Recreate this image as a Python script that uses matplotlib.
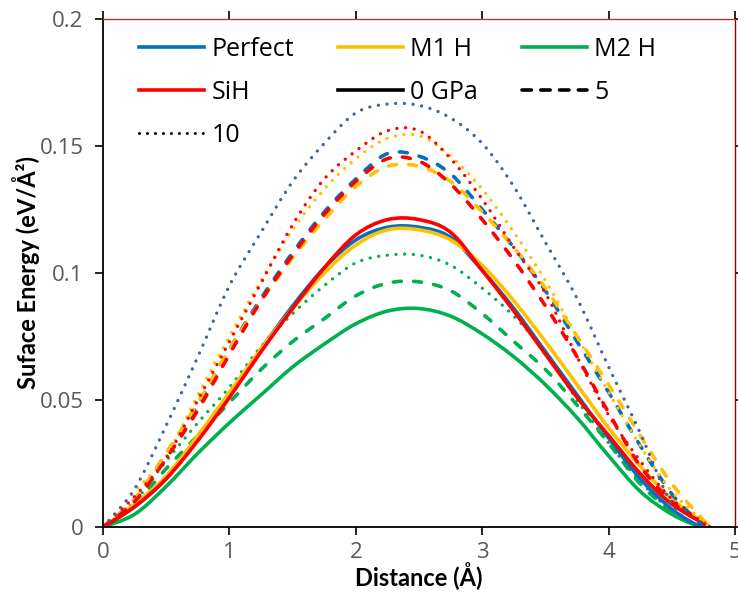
import matplotlib
matplotlib.use("Agg")
import matplotlib.pyplot as plt
from matplotlib.path import Path
from matplotlib.patches import PathPatch
from matplotlib.lines import Line2D
import numpy as np

# distance grid (Å); each curve ends at its own x
dist = [0, 0.25, 0.5, 0.75, 1.0, 1.25, 1.5, 1.75, 2.0, 2.25,
        2.5, 2.75, 3.0, 3.25, 3.5, 3.75, 4.0, 4.25, 4.5]

# surface energy (eV/Å^2), 0 GPa
perfect_0 = [0, .008, .019, .035, .052, .070, .087, .102, .113, .118,
             .118, .114, .101, .086, .069, .052, .035, .019, .007]
m1h_0 = [0, .009, .020, .036, .053, .070, .086, .100, .111, .117,
         .117, .113, .103, .089, .073, .056, .039, .024, .011]
m2h_0 = [0, .005, .016, .029, .041, .052, .063, .072, .080, .085,
         .086, .083, .076, .067, .056, .043, .028, .014, .005]
sih_0 = [0, .008, .019, .034, .051, .069, .086, .102, .115, .121,
         .121, .116, .101, .085, .068, .051, .036, .021, .009]
# 5 GPa
perfect_5 = [0, .011, .029, .048, .070, .090, .108, .124, .137, .147,
             .146, .139, .125, .110, .093, .073, .053, .032, .013]
m1h_5 = [0, .011, .029, .049, .070, .089, .106, .121, .134, .142,
         .142, .136, .124, .110, .094, .075, .056, .036, .017]
m2h_5 = [0, .009, .023, .036, .049, .062, .073, .082, .091, .096,
         .0965, .093, .084, .073, .062, .048, .033, .017, .006]
sih_5 = [0, .010, .027, .046, .068, .089, .107, .123, .136, .145,
         .144, .135, .121, .105, .087, .067, .045, .024, .010]
# 10 GPa
perfect_10 = [0, .015, .040, .067, .095, .116, .136, .151, .163, .1665,
              .166, .161, .151, .134, .112, .090, .063, .037, .009]
m1h_10 = [0, .014, .028, .052, .075, .097, .117, .133, .145, .153,
          .154, .146, .133, .116, .097, .075, .053, .032, .014]
m2h_10 = [0, .010, .026, .041, .055, .071, .084, .095, .104, .107,
          .107, .103, .094, .083, .069, .050, .033, .018, .006]
sih_10 = [0, .012, .027, .050, .073, .096, .119, .137, .148, .156,
          .156, .145, .129, .110, .092, .067, .044, .026, .011]

end_x = {"perfect_0": 4.72, "m1h_0": 4.8, "m2h_0": 4.72, "sih_0": 4.8,
         "perfect_5": 4.75, "m1h_5": 4.8, "m2h_5": 4.7, "sih_5": 4.78,
         "perfect_10": 4.72, "m1h_10": 4.8, "m2h_10": 4.7, "sih_10": 4.8}

blue = "#0070C0"
yellow = "#FFC000"
green = "#00B050"
red = "#FF0000"
navy = "#3F62A8"

solid = "-"
dashed = (0, (2.2, 3.4))
dotted = (0, (0.01, 2.6))


def smooth_path(xs, ys):
    # excel style smoothed line as bezier segments through the read points
    pts = np.column_stack([xs, ys])
    n = len(pts)
    verts = [pts[0]]
    codes = [Path.MOVETO]
    for i in range(n - 1):
        p0 = pts[i - 1] if i > 0 else pts[i]
        p1 = pts[i]
        p2 = pts[i + 1]
        p3 = pts[i + 2] if i + 2 < n else pts[i + 1]
        verts += [p1 + (p2 - p0) / 6, p2 - (p3 - p1) / 6, p2]
        codes += [Path.CURVE4] * 3
    return Path(verts, codes)


series = [
    ("m2h_0", m2h_0, green, solid, 2.6),
    ("m2h_5", m2h_5, green, dashed, 2.6),
    ("m2h_10", m2h_10, green, dotted, 2.4),
    ("perfect_0", perfect_0, blue, solid, 2.6),
    ("m1h_0", m1h_0, yellow, solid, 2.6),
    ("sih_0", sih_0, red, solid, 2.6),
    ("perfect_5", perfect_5, blue, dashed, 2.6),
    ("m1h_5", m1h_5, yellow, dashed, 2.6),
    ("sih_5", sih_5, red, dashed, 2.6),
    ("m1h_10", m1h_10, yellow, dotted, 2.4),
    ("sih_10", sih_10, red, dotted, 2.4),
    ("perfect_10", perfect_10, navy, dotted, 2.4),
]

fig = plt.figure(figsize=(7.38, 5.97), dpi=100)
ax = fig.add_axes([0.1396, 0.1173, 0.8564, 0.8509])

for name, ys, col, ls, lw in series:
    xs = dist + [end_x[name]]
    path = smooth_path(np.array(xs, float), np.array(list(ys) + [0.0]))
    ax.add_patch(PathPatch(path, fill=False, edgecolor=col, linestyle=ls,
                           linewidth=lw, capstyle="round", joinstyle="round"))

ax.set_xlim(0, 5)
ax.set_ylim(0, 0.2)
ax.set_xticks([0, 1, 2, 3, 4, 5])
ax.set_yticks([0, 0.05, 0.1, 0.15, 0.2])
ax.set_yticklabels(["0", "0.05", "0.1", "0.15", "0.2"])

for lab in ax.get_xticklabels() + ax.get_yticklabels():
    lab.set_fontfamily("Open Sans")
    lab.set_fontsize(16)
    lab.set_color("#595959")
ax.tick_params(axis="both", direction="out", length=6, width=1.2, color="black")
ax.tick_params(axis="x", pad=5)
ax.tick_params(axis="y", pad=8)

ax.spines["left"].set_color("black")
ax.spines["bottom"].set_color("black")
ax.spines["left"].set_linewidth(1.3)
ax.spines["bottom"].set_linewidth(1.3)
ax.spines["top"].set_color("#B03838")
ax.spines["right"].set_color("#8B0000")
ax.spines["top"].set_linewidth(1.0)
ax.spines["right"].set_linewidth(1.0)

# secondary ticks on top and right in dark red, no labels
ax.tick_params(top=True, right=True, labeltop=False, labelright=False)
for t in ax.xaxis.get_major_ticks():
    t.tick2line.set_color("#B03838")
for t in ax.yaxis.get_major_ticks():
    t.tick2line.set_color("#8B0000")

ax.set_xlabel("Distance (Å)", fontfamily="Lato", fontweight="bold",
              fontsize=17, labelpad=-1)
ax.set_ylabel("Suface Energy (eV/Å²)", fontfamily="Lato", fontweight="bold",
              fontsize=17, labelpad=0)

# legend, ordered column by column so it reads row by row
handles = [
    Line2D([], [], color=blue, lw=2.6, label="Perfect"),
    Line2D([], [], color=red, lw=2.6, label="SiH"),
    Line2D([], [], color="black", lw=2.2, ls=(0, (0.01, 2.6)),
           dash_capstyle="round", label="10"),
    Line2D([], [], color=yellow, lw=2.6, label="M1 H"),
    Line2D([], [], color="black", lw=2.6, label="0 GPa"),
    Line2D([], [], color=green, lw=2.6, label="M2 H"),
    Line2D([], [], color="black", lw=2.6, ls=(0, (2.6, 2.6)),
           dash_capstyle="round", label="5"),
]
ax.legend(handles=handles, ncol=3, loc="upper left",
          bbox_to_anchor=(0.021, 1.009), frameon=False,
          prop={"family": "Open Sans", "size": 18},
          handlelength=2.6, handletextpad=0.3, columnspacing=1.75,
          labelspacing=0.72)

fig.savefig("out.png", dpi=100)
